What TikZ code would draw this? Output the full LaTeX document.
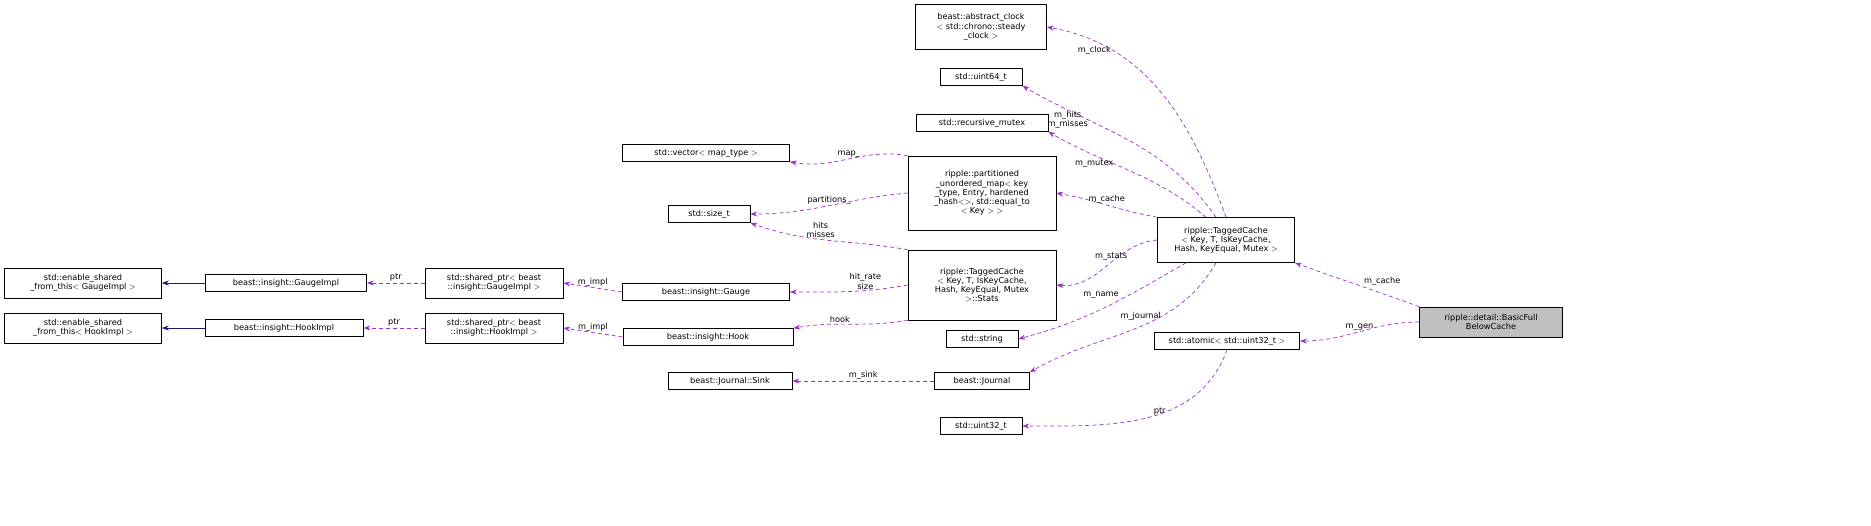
\documentclass[tikz,border=0pt]{standalone}
\usepackage{fontspec}
\setmainfont{DejaVu Sans}
\usetikzlibrary{arrows.meta}
\begin{document}
\begin{tikzpicture}[x=1pt,y=-1pt,
 box/.style={draw=black,fill=white,inner sep=2pt,font=\fontsize{8.2}{9.2}\selectfont,align=center,line width=0.6pt},
 mem/.style={draw={rgb,255:red,153;green,50;blue,204},dashed,line width=0.7pt,-{Stealth[length=7pt,width=5pt]},dash pattern=on 4pt off 3pt},
 inh/.style={draw={rgb,255:red,25;green,25;blue,112},line width=0.8pt,-{Stealth[length=7pt,width=5pt]}},
 lbl/.style={font=\fontsize{8.2}{9.2}\selectfont,align=center,inner sep=1pt}]
\useasboundingbox (0,0) rectangle (1871,525);
\node[box,minimum width=157,minimum height=30] (esg) at (83,283) {std::enable\_shared\\\_from\_this$<$ GaugeImpl $>$};
\node[box,minimum width=161,minimum height=17] (gi) at (286,283) {beast::insight::GaugeImpl};
\node[box,minimum width=138,minimum height=30] (spg) at (494,283) {std::shared\_ptr$<$ beast\\::insight::GaugeImpl $>$};
\node[box,minimum width=167,minimum height=17] (g) at (706,292) {beast::insight::Gauge};
\node[box,minimum width=157,minimum height=30] (esh) at (83,328) {std::enable\_shared\\\_from\_this$<$ HookImpl $>$};
\node[box,minimum width=158,minimum height=17] (hi) at (284,328) {beast::insight::HookImpl};
\node[box,minimum width=138,minimum height=30] (sph) at (494,328) {std::shared\_ptr$<$ beast\\::insight::HookImpl $>$};
\node[box,minimum width=170,minimum height=17] (h) at (708,337) {beast::insight::Hook};
\node[box,minimum width=124,minimum height=17] (sink) at (730,381) {beast::Journal::Sink};
\node[box,minimum width=167,minimum height=17] (vec) at (706,153) {std::vector$<$ map\_type $>$};
\node[box,minimum width=82,minimum height=17] (st) at (709,214) {std::size\_t};
\node[box,minimum width=148,minimum height=74] (pum) at (982,193) {ripple::partitioned\\\_unordered\_map$<$ key\\\_type, Entry, hardened\\\_hash$<$$>$, std::equal\_to\\$<$ Key $>$ $>$};
\node[box,minimum width=148,minimum height=70] (stats) at (982,285) {ripple::TaggedCache\\$<$ Key, T, IsKeyCache,\\ Hash, KeyEqual, Mutex\\ $>$::Stats};
\node[box,minimum width=72,minimum height=17] (str) at (982,339) {std::string};
\node[box,minimum width=95,minimum height=17] (j) at (982,381) {beast::Journal};
\node[box,minimum width=82,minimum height=17] (u32) at (981,426) {std::uint32\_t};
\node[box,minimum width=131,minimum height=45] (clk) at (981,27) {beast::abstract\_clock\\$<$ std::chrono::steady\\\_clock $>$};
\node[box,minimum width=82,minimum height=17] (u64) at (981,77) {std::uint64\_t};
\node[box,minimum width=132,minimum height=17] (rm) at (982,123) {std::recursive\_mutex};
\node[box,minimum width=137,minimum height=45] (tc) at (1226,240) {ripple::TaggedCache\\$<$ Key, T, IsKeyCache,\\ Hash, KeyEqual, Mutex $>$};
\node[box,minimum width=145,minimum height=17] (at) at (1227,341) {std::atomic$<$ std::uint32\_t $>$};
\node[box,fill={rgb,255:red,191;green,191;blue,191},minimum width=143,minimum height=30] (bfc) at (1491,322) {ripple::detail::BasicFull\\BelowCache};
\draw[inh] (gi) -- (esg);
\draw[inh] (hi) -- (esh);
\draw[mem] (spg) -- node[lbl,above]{ptr} (gi);
\draw[mem] (sph) -- node[lbl,above]{ptr} (hi);
\draw[mem] (g.west) -- node[lbl,above]{m\_impl} (spg.east);
\draw[mem] (h.west) -- node[lbl,above]{m\_impl} (sph.east);
\draw[mem] (j.west) -- node[lbl,above]{m\_sink} (sink.east);
\draw[mem] (pum.north west) to[out=170,in=-10] node[lbl,above]{map\_} (vec.south east);
\draw[mem] (pum.west) to[out=185,in=0] node[lbl,above]{partitions\_} (st.east);
\draw[mem] (stats.north west) to[out=170,in=-20] node[lbl,pos=0.55,above]{hits\\misses} (st.south east);
\draw[mem] (stats.west) to[out=190,in=0] node[lbl,pos=0.35,above]{hit\_rate\\size} (g.east);
\draw[mem] (stats.south west) to[out=190,in=10] node[lbl,pos=0.6,above]{hook} (h.north east);
\draw[mem] (tc.north) to[out=110,in=-10] node[lbl,pos=0.75,left]{m\_clock} (clk.east);
\draw[mem] ([xshift=-10]tc.north) to[out=125,in=-30] node[lbl,pos=0.7,left]{m\_hits\\m\_misses} (u64.south east);
\draw[mem] ([xshift=-20]tc.north) to[out=140,in=-30] node[lbl,pos=0.6,left]{m\_mutex} (rm.south east);
\draw[mem] (tc.north west) to[out=170,in=-10] node[lbl,pos=0.5,above]{m\_cache} (pum.east);
\draw[mem] (tc.west) to[out=185,in=-5] node[lbl,pos=0.45,above]{m\_stats} (stats.east);
\draw[mem] ([xshift=-40]tc.south) to[out=-150,in=15] node[lbl,pos=0.4,above left]{m\_name} (str.east);
\draw[mem] ([xshift=-10]tc.south) to[out=-120,in=30] node[lbl,pos=0.35,left]{m\_journal} (j.north east);
\draw[mem] (bfc.north west) to[out=160,in=-20] node[lbl,pos=0.45,above right]{m\_cache} (tc.south east);
\draw[mem] (bfc.west) to[out=180,in=0] node[lbl,pos=0.5,above]{m\_gen} (at.east);
\draw[mem] (at.south) to[out=-110,in=0] node[lbl,pos=0.4,left]{ptr} (u32.east);
\end{tikzpicture}
\end{document}
